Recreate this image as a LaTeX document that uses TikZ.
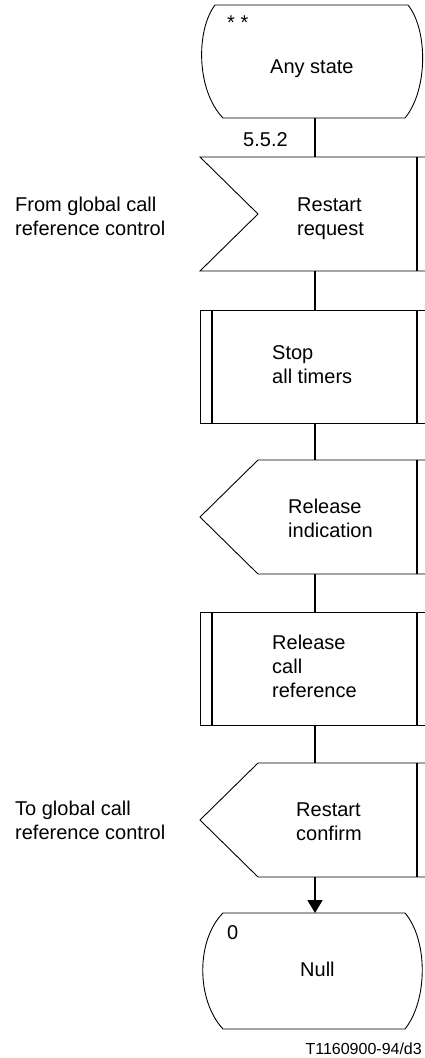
\documentclass[tikz,border=0pt]{standalone}
\usepackage{fontspec}
\setmainfont{Liberation Sans}
\usetikzlibrary{calc,arrows.meta}
\begin{document}
\begin{tikzpicture}[x=1pt,y=-1pt,
  sym/.style={draw=none,inner sep=0pt,outer sep=0pt,minimum width=230pt},
  outl/.style={line width=0.9pt},
  bar/.style={line width=1.8pt},
  flow/.style={line width=1.8pt},
  txt/.style={font=\fontsize{20}{24}\selectfont, align=left, anchor=base west, inner sep=0pt},
  small/.style={font=\fontsize{16}{19}\selectfont, anchor=base east, inner sep=0pt}
]
\useasboundingbox (0,0) rectangle (425,1058);

% symbol frames (invisible, for connectors)
\node[sym, minimum height=113pt] (st1) at (315,61.5) {};
\node[sym, minimum height=114pt] (in1) at (315,214) {};
\node[sym, minimum height=113pt] (task1) at (315,366.5) {};
\node[sym, minimum height=114pt] (out1) at (315,517) {};
\node[sym, minimum height=113pt] (task2) at (315,668.5) {};
\node[sym, minimum height=114pt] (out2) at (315,820) {};
\node[sym, minimum height=116pt] (st2) at (315,971) {};

% state: Any state
\draw[outl] (215,5) -- (408,5) .. controls (428,30) and (428,90) .. (405,118)
  -- (223,118) .. controls (196,90) and (196,30) .. cycle;
% input: Restart request
\draw[outl] (425,157) -- (200,157) -- (258,214) -- (200,271) -- (425,271);
\draw[bar] (417,157) -- (417,271);
% task: Stop all timers
\draw[outl] (425,310) -- (200,310) -- (200,423) -- (425,423);
\draw[bar] (212,310) -- (212,423);
\draw[bar] (417,310) -- (417,423);
% output: Release indication
\draw[outl] (425,460) -- (258,460) -- (200,517) -- (258,574) -- (425,574);
\draw[bar] (417,460) -- (417,574);
% task: Release call reference
\draw[outl] (425,612) -- (200,612) -- (200,725) -- (425,725);
\draw[bar] (212,612) -- (212,725);
\draw[bar] (417,612) -- (417,725);
% output: Restart confirm
\draw[outl] (425,763) -- (258,763) -- (200,820) -- (258,877) -- (425,877);
\draw[bar] (417,763) -- (417,877);
% state: Null
\draw[outl] (223,913) -- (405,913) .. controls (428,940) and (428,1000) .. (405,1029)
  -- (223,1029) .. controls (196,1000) and (196,940) .. cycle;

% connectors
\draw[flow] (st1.south) -- (in1.north);
\draw[flow] (in1.south) -- (task1.north);
\draw[flow] (task1.south) -- (out1.north);
\draw[flow] (out1.south) -- (task2.north);
\draw[flow] (task2.south) -- (out2.north);
\draw[flow, -{Triangle[length=13pt,width=15pt]}] (out2.south) -- (st2.north);

% texts (base anchor = baseline of last line)
\node[txt] (t0) at (227,29) {* *};
\node[txt] (t1) at (270,73) {Any state};
\node[txt] (t2) at (243,146) {5.5.2};
\node[txt] (t3) at (297,235) {Restart\\request};
\node[txt] (t4) at (272,383) {Stop\\all timers};
\node[txt] (t5) at (288,537) {Release\\indication};
\node[txt] (t6) at (272,697) {Release\\call\\reference};
\node[txt] (t7) at (296,840) {Restart\\confirm};
\node[txt] (t8) at (227,939) {0};
\node[txt] (t9) at (300,976) {Null};
\node[txt] (l1) at (15,235) {From global call\\reference control};
\node[txt] (l2) at (15,839) {To global call\\reference control};
\node[small] (code) at (422,1054) {T1160900-94/d3};
\end{tikzpicture}
\end{document}
